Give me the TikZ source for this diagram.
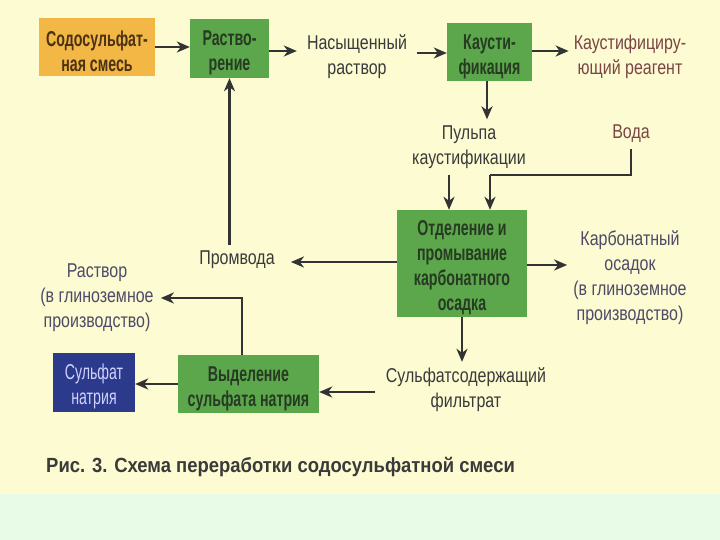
\documentclass[tikz,border=0pt]{standalone}
\usepackage{fontspec}
\setmainfont{Liberation Sans}[FakeStretch=0.8]
\newfontfamily\boxfont{Liberation Sans}[FakeStretch=0.66]
\newfontfamily\capfont{Liberation Sans}[FakeStretch=0.9]
\usetikzlibrary{arrows.meta}
\newcommand\bxstrut{\rule{0pt}{24pt}}
\definecolor{bgY}{HTML}{FCFBD2}
\definecolor{bgM}{HTML}{E8FBE6}
\definecolor{boxG}{HTML}{5CA64C}
\definecolor{boxO}{HTML}{F2B745}
\definecolor{boxB}{HTML}{2C3A8C}
\definecolor{txtG}{HTML}{263B22}
\definecolor{txtO}{HTML}{4A3212}
\definecolor{txtL}{HTML}{3A3A3A}
\definecolor{txtR}{HTML}{7A4545}
\definecolor{txtP}{HTML}{4E4A68}
\definecolor{lineC}{HTML}{333333}
\begin{document}
\begin{tikzpicture}[x=1pt,y=-1pt,
  boxbase/.style={inner sep=0pt,align=center,font=\boxfont\fontsize{21.5}{25}\selectfont\bfseries},
  greenbox/.style={boxbase,fill=boxG,text=txtG},
  orangebox/.style={boxbase,fill=boxO,text=txtO},
  bluebox/.style={boxbase,fill=boxB,text=white!82!blue,font=\boxfont\fontsize{21.5}{25}\selectfont},
  lbl/.style={inner sep=6pt,align=center,text=txtL,font=\fontsize{20}{25}\selectfont},
  arr/.style={draw=lineC,line width=2.8pt,-{Stealth[length=13pt,width=11pt,inset=4pt]}},
  ln/.style={draw=lineC,line width=2.8pt}]
\fill[bgY] (0,0) rectangle (720,494);
\fill[bgM] (0,494) rectangle (720,540);
\useasboundingbox (0,0) rectangle (720,540);

\node[orangebox,minimum width=116pt,minimum height=58pt] (mix) at (97,47) {\bxstrut Содосульфат-\\ная смесь};
\node[greenbox,minimum width=79pt,minimum height=59pt] (dis) at (229.5,48.5) {\bxstrut Раство-\\рение};
\node[lbl,inner xsep=10pt] (sat) at (357,57) {Насыщенный\\раствор};
\node[greenbox,minimum width=85pt,minimum height=58pt] (cau) at (489.5,52) {\bxstrut Каусти-\\фикация};
\node[lbl,text=txtR,inner xsep=5pt] (reag) at (630,57) {Каустифициру-\\ющий реагент};
\node[lbl] (pulp) at (469,147) {Пульпа\\каустификации};
\node[lbl,text=txtR] (water) at (631,134) {Вода};
\node[greenbox,minimum width=130pt,minimum height=107pt] (sep) at (462,263.5) {\bxstrut Отделение и\\промывание\\карбонатного\\осадка};
\node[lbl,text=txtP] (carb) at (630,278) {Карбонатный\\осадок\\(в глиноземное\\производство)};
\node[lbl,inner xsep=16pt] (prom) at (237,260) {Промвода};
\node[lbl,inner xsep=11pt] (filt) at (466,390) {Сульфатсодержащий\\фильтрат};
\node[greenbox,minimum width=141pt,minimum height=58pt] (iso) at (248.5,384) {\bxstrut Выделение\\сульфата натрия};
\node[bluebox,minimum width=82pt,minimum height=59pt] (na) at (94,382.5) {\bxstrut Сульфат\\натрия};
\node[lbl,text=txtP,inner xsep=7pt] (sol) at (97,298) {Раствор\\(в глиноземное\\производство)};
\node[anchor=west,inner sep=0pt,text=txtL,font=\capfont\fontsize{20.5}{22}\selectfont\bfseries] (cap) at (46,467) {Рис. 3. Схема переработки содосульфатной смеси};

\coordinate (wj) at (490,175);

\draw[arr] (mix.east) -- (mix.east -| dis.west);
\draw[arr] ([yshift=-2.5pt]dis.east) -- ([yshift=-2.5pt]dis.east -| sat.west);
\draw[arr] ([yshift=-1pt]cau.west -| sat.east) -- ([yshift=-1pt]cau.west);
\draw[arr] ([yshift=1pt]cau.east) -- ([yshift=1pt]cau.east -| reag.west);
\draw[arr] ([xshift=-2.5pt]cau.south) -- ([xshift=-2.5pt]cau.south |- pulp.north);
\draw[arr] ([xshift=-20pt]pulp.south) -- ([xshift=-20pt]pulp.south |- sep.north);
\draw[ln] (water.south) |- (wj);
\draw[arr] (wj) -- (wj |- sep.north);
\draw[arr] ([yshift=-1.5pt]sep.east) -- ([yshift=-1.5pt]sep.east -| carb.west);
\draw[arr] (sep.south) -- (sep.south |- filt.north);
\draw[arr] ([yshift=-2pt]filt.west) -- ([yshift=-2pt]filt.west -| iso.east);
\draw[arr] (iso.west) -- (iso.west -| na.east);
\draw[arr] ([xshift=-6.5pt]iso.north) |- (sol.east);
\draw[arr] ([yshift=1.5pt]sep.west) -- ([yshift=1.5pt]sep.west -| prom.east);
\draw[arr] (dis.south |- prom.north) -- (dis.south);
\end{tikzpicture}
\end{document}
